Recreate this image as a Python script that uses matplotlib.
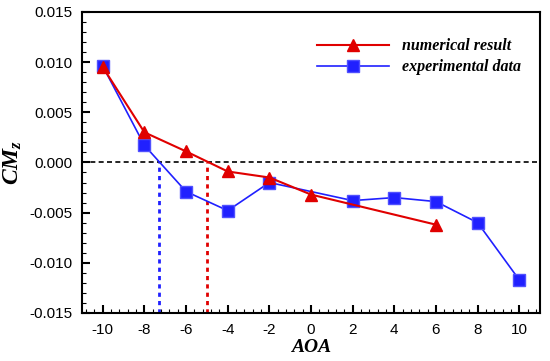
import matplotlib
matplotlib.use("Agg")
import matplotlib.pyplot as plt
from matplotlib.ticker import MultipleLocator

plt.rcParams['font.family'] = ['Liberation Sans', 'DejaVu Sans']
plt.rcParams['axes.unicode_minus'] = False
plt.rcParams['mathtext.fontset'] = 'custom'
plt.rcParams['mathtext.rm'] = 'Liberation Serif'
plt.rcParams['mathtext.it'] = 'Liberation Serif:italic'
plt.rcParams['mathtext.bf'] = 'Liberation Serif:bold'
plt.rcParams['mathtext.bfit'] = 'Liberation Serif:italic:bold'

aoa_num = [-10, -8, -6, -4, -2, 0, 6]
cmz_num = [0.0095, 0.0030, 0.0011, -0.0009, -0.0015, -0.0032, -0.0062]

aoa_exp = [-10, -8, -6, -4, -2, 2, 4, 6, 8, 10]
cmz_exp = [0.0096, 0.0017, -0.0029, -0.0048, -0.0020, -0.0038, -0.0035, -0.0039, -0.0060, -0.0117]

zero_num = -5.0
zero_exp = -7.3

red = '#e00000'
blue = '#2020ff'

fig = plt.figure(figsize=(5.5, 3.61), dpi=100)
ax = fig.add_axes([0.149, 0.133, 0.833, 0.834])

ax.axhline(0, color='black', linestyle=(0, (3, 2)), linewidth=1.2, zorder=1)
ax.plot([zero_exp, zero_exp], [-0.015, 0], color=blue, linestyle=(0, (1.5, 1.5)), linewidth=2, zorder=1)
ax.plot([zero_num, zero_num], [-0.015, 0], color=red, linestyle=(0, (1.5, 1.5)), linewidth=2, zorder=1)

ax.plot(aoa_exp, cmz_exp, color=blue, linewidth=1.2, marker='s', markersize=8,
        markerfacecolor=blue, markeredgecolor='#5050ff', label='experimental data', zorder=2)
ax.plot(aoa_num, cmz_num, color=red, linewidth=1.5, marker='^', markersize=9,
        markerfacecolor=red, markeredgecolor=red, label='numerical result', zorder=3)

ax.set_xlim(-11, 11)
ax.set_ylim(-0.015, 0.015)
ax.xaxis.set_major_locator(MultipleLocator(2))
ax.xaxis.set_minor_locator(MultipleLocator(0.4))
ax.yaxis.set_major_locator(MultipleLocator(0.005))
ax.yaxis.set_minor_locator(MultipleLocator(0.001))
ax.yaxis.set_major_formatter(plt.FormatStrFormatter('%.3f'))
ax.tick_params(which='both', direction='in', top=False, right=False)
ax.tick_params(which='major', length=6, width=1.5, labelsize=11, pad=7)
ax.tick_params(which='minor', length=3, width=0.8)
for s in ax.spines.values():
    s.set_linewidth(1.5)

ax.set_xlabel('AOA', family='Liberation Serif', style='italic', weight='bold', fontsize=14, labelpad=2)
ax.set_ylabel(r'$\mathbfit{CM_z}$', fontsize=17, labelpad=4)

handles, labels = ax.get_legend_handles_labels()
leg = ax.legend(handles[::-1], labels[::-1], loc='upper right', bbox_to_anchor=(0.99, 0.96),
                frameon=False, handlelength=4.5, handletextpad=0.8, labelspacing=0.3,
                prop={'family': 'Liberation Serif', 'style': 'italic', 'weight': 'bold', 'size': 11.5})

fig.savefig('out.png', dpi=100)
